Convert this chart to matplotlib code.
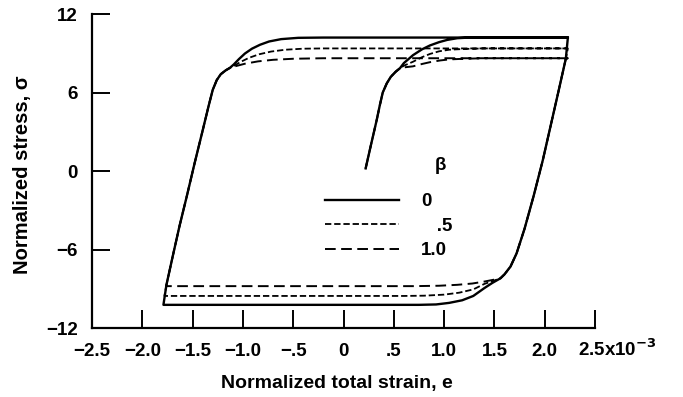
import numpy as np
import matplotlib
matplotlib.use('Agg')
import matplotlib.pyplot as plt
from matplotlib.transforms import ScaledTranslation

plt.rcParams['font.family'] = ['Liberation Sans', 'DejaVu Sans']
plt.rcParams['font.weight'] = 'bold'
plt.rcParams['mathtext.default'] = 'bf'

# strain in units of 1e-3, stress normalized
# first loading, elastic part (same for every beta)
init_e = [0.22, 0.27, 0.33, 0.36, 0.39, 0.43, 0.47, 0.52, 0.56]
init_s = [0.2, 1.9, 3.9, 5.0, 6.0, 6.7, 7.2, 7.6, 7.85]

# first loading, hardening part up to the strain limit
first_e = {
    '0':   [0.60, 0.69, 0.78, 0.86, 0.95, 1.03, 1.13, 1.25, 2.23],
    '.5':  [0.60, 0.69, 0.78, 0.86, 0.95, 1.05, 1.20, 1.40, 2.23],
    '1.0': [0.60, 0.69, 0.78, 0.86, 0.96, 1.05, 1.20, 1.40, 2.23],
}
first_s = {
    '0':   [8.25, 8.85, 9.3, 9.6, 9.85, 10.02, 10.15, 10.2, 10.2],
    '.5':  [8.05, 8.35, 8.7, 8.95, 9.15, 9.27, 9.33, 9.37, 9.37],
    '1.0': [7.92, 8.0, 8.18, 8.32, 8.45, 8.53, 8.58, 8.62, 8.62],
}

# unloading from the right edge (shared)
desc_e = [2.21, 2.14, 2.06, 1.98, 1.89, 1.80, 1.72, 1.66, 1.60, 1.56]
desc_s = [8.6, 6.2, 3.5, 0.8, -1.9, -4.4, -6.3, -7.3, -7.9, -8.2]

# reversed yielding down to the compressive limit
low_e = {
    '0':   [1.48, 1.40, 1.29, 1.18, 1.05, 0.92, 0.75, -1.79],
    '.5':  [1.48, 1.40, 1.29, 1.15, 1.00, 0.80, 0.60, -1.78],
    '1.0': [1.48, 1.40, 1.28, 1.13, 0.95, 0.70, -1.765],
}
low_s = {
    '0':   [-8.55, -8.95, -9.55, -9.88, -10.08, -10.2, -10.23, -10.23],
    '.5':  [-8.42, -8.63, -9.05, -9.3, -9.45, -9.53, -9.55, -9.55],
    '1.0': [-8.33, -8.45, -8.6, -8.7, -8.77, -8.8, -8.8],
}

# reloading from the left edge (shared)
asc_e = [-1.76, -1.70, -1.63, -1.56, -1.48, -1.40, -1.34, -1.30, -1.26, -1.22, -1.17, -1.13]
asc_s = [-8.7, -6.6, -4.2, -2.0, 0.6, 3.1, 5.0, 6.2, 6.95, 7.4, 7.7, 7.88]

# yielding in tension again
up_e = {
    '0':   [-1.09, -1.04, -0.98, -0.91, -0.83, -0.74, -0.62, -0.45, -0.20, 2.23],
    '.5':  [-1.08, -1.02, -0.94, -0.84, -0.72, -0.58, -0.40, -0.20, 2.23],
    '1.0': [-1.07, -0.98, -0.85, -0.70, -0.50, -0.20, 2.23],
}
up_s = {
    '0':   [8.15, 8.55, 8.98, 9.35, 9.65, 9.9, 10.08, 10.18, 10.2, 10.2],
    '.5':  [8.08, 8.35, 8.65, 8.92, 9.13, 9.27, 9.35, 9.37, 9.37],
    '1.0': [8.02, 8.2, 8.38, 8.5, 8.58, 8.62, 8.62],
}

betas = ['0', '.5', '1.0']
legend_labels = ['0', '   .5', '1.0']
styles = ['-', (0, (3.5, 1.6)), (0, (5.5, 2.8))]
widths = [1.7, 1.3, 1.4]

xticks = [-2.5, -2.0, -1.5, -1.0, -0.5, 0, 0.5, 1.0, 1.5, 2.0, 2.5]
xticklabels = ['\u22122.5', '\u22122.0', '\u22121.5', '\u22121.0', '\u2212.5', '0',
               '.5', '1.0', '1.5', '2.0', '2.5x10$^{-3}$']
yticks = [-12, -6, 0, 6, 12]
yticklabels = ['\u221212', '\u22126', '0', '6', '12']

fig = plt.figure(figsize=(6.83, 3.97), dpi=100)
ax = fig.add_axes([0.1347, 0.1738, 0.7365, 0.7909])

for b, lab, ls, lw in zip(betas, legend_labels, styles, widths):
    e = np.concatenate([init_e, first_e[b], desc_e, low_e[b], asc_e, up_e[b]])
    s = np.concatenate([init_s, first_s[b], desc_s, low_s[b], asc_s, up_s[b]])
    ax.plot(e, s, color='black', linestyle=ls, linewidth=lw, label=lab)

ax.set_xlim(-2.5, 2.5)
ax.set_ylim(-12, 12)
ax.set_xticks(xticks)
ax.set_xticklabels(xticklabels)
ax.set_yticks(yticks)
ax.set_yticklabels(yticklabels)
ax.tick_params(direction='in', length=13, width=1.4, labelsize=13.5)
ax.tick_params(axis='x', pad=11)
ax.tick_params(axis='y', pad=10)

for side in ['top', 'right']:
    ax.spines[side].set_visible(False)
for side in ['left', 'bottom']:
    ax.spines[side].set_linewidth(1.6)

last = ax.get_xticklabels()[-1]
last.set_ha('left')
last.set_transform(last.get_transform() + ScaledTranslation(-0.17, 0.05, fig.dpi_scale_trans))

ax.set_xlabel('Normalized total strain, e', fontsize=14, fontweight='bold')
ax.set_ylabel('Normalized stress, \u03c3', fontsize=14.5, fontweight='bold')
ax.xaxis.set_label_coords(0.487, -0.15)
ax.yaxis.set_label_coords(-0.119, 0.487)

ax.legend(loc='upper left', bbox_to_anchor=(0.463, 0.43),
          frameon=False, handlelength=3.95, handletextpad=1.17, labelspacing=0.4,
          borderpad=0, borderaxespad=0, fontsize=13.5)
ax.text(0.692, 0.519, '\u03b2', transform=ax.transAxes, ha='center', va='center',
        fontsize=13.5, fontweight='bold')

fig.savefig('out.png', dpi=100)
